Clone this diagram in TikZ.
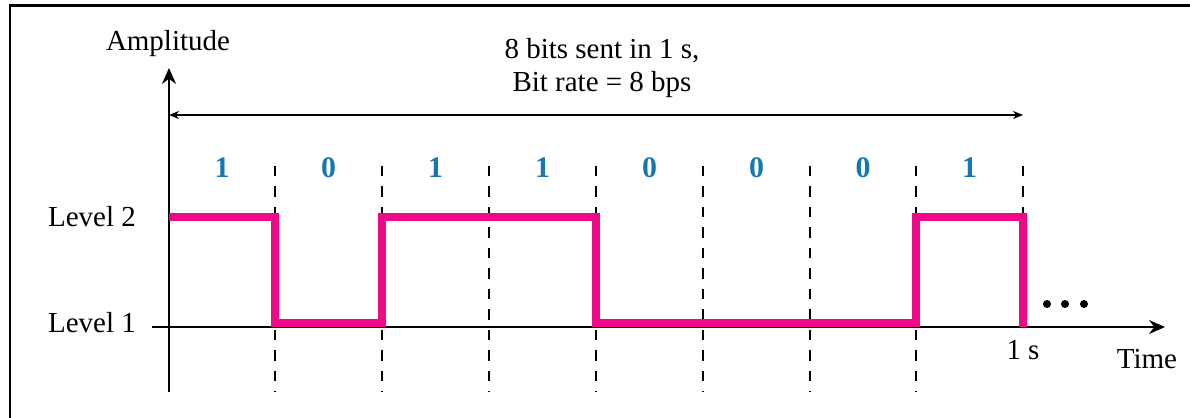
\documentclass[tikz,border=0pt]{standalone}
\usepackage{fontspec}
\setmainfont{Liberation Serif}
\usetikzlibrary{arrows.meta}
\definecolor{sigpink}{RGB}{238,10,135}
\definecolor{bitblue}{RGB}{22,120,176}

\tikzset{
	axisline/.style={line width=1.1pt, -{Stealth[length=0.32cm, width=0.28cm]}},
	spanline/.style={line width=0.7pt, {Stealth[length=0.2cm, width=0.16cm]}-{Stealth[length=0.2cm, width=0.16cm]}},
	slotline/.style={line width=1.2pt, dash pattern=on 0.21cm off 0.2cm},
	signal/.style={sigpink, line width=4.5pt, line join=miter},
	bit/.style={bitblue, font=\fontsize{17}{20}\selectfont\bfseries},
	label/.style={inner sep=0pt}
}

\begin{document}
\begin{tikzpicture}[x=0.02cm, y=-0.02cm, font=\fontsize{16.5}{19.3}\selectfont]
	\useasboundingbox (0,0) rectangle (1190,418);
	% Frame:
	\draw[line width=1.7pt] (10,418) -- (10,5.5) -- (1190,5.5);
	% Axes:
	\coordinate (Ybot) at (169,392);
	\coordinate (Ytop) at (169,68);
	\coordinate (Xl) at (152,327);
	\coordinate (Xr) at (1165,327);
	\coordinate (S0) at (169,115);
	\coordinate (S8) at (1023,115);
	\draw[axisline] (Ybot) -- (Ytop);
	\draw[axisline] (Xl) -- (Xr);
	\draw[spanline] (S0) -- (S8);
	% Bit slots:
	\draw[slotline] (275,166) -- (275,392);
	\draw[slotline] (382,166) -- (382,392);
	\draw[slotline] (489,166) -- (489,392);
	\draw[slotline] (596,166) -- (596,392);
	\draw[slotline] (703,166) -- (703,392);
	\draw[slotline] (810,166) -- (810,392);
	\draw[slotline] (916,166) -- (916,392);
	\draw[slotline] (1023,166) -- (1023,217);
	% Signal:
	\draw[signal] (169,217) -- (275,217) -- (275,323) -- (382,323) -- (382,217)
		-- (596,217) -- (596,323) -- (916,323) -- (916,217) -- (1023,217) -- (1023,327);
	\fill (1047,304) circle (4);
	\fill (1065,304) circle (4);
	\fill (1084,304) circle (4);
	% Bits:
	\node[bit](B1) at (222,168){1};
	\node[bit](B2) at (328.5,168){0};
	\node[bit](B3) at (435.5,168){1};
	\node[bit](B4) at (542.5,168){1};
	\node[bit](B5) at (649.5,168){0};
	\node[bit](B6) at (756.5,168){0};
	\node[bit](B7) at (863,168){0};
	\node[bit](B8) at (969.5,168){1};
	% Labels:
	\node(amp) at (168,44){Amplitude};
	\node[align=center](rate) at (602,68){8 bits sent in 1 s,\\Bit rate = 8 bps};
	\node(lvl2) at (92,217){Level 2};
	\node(lvl1) at (92,323){Level 1};
	\node(onesec) at (1023,350){1 s};
	\node(time) at (1147,359){Time};
\end{tikzpicture}
\end{document}
